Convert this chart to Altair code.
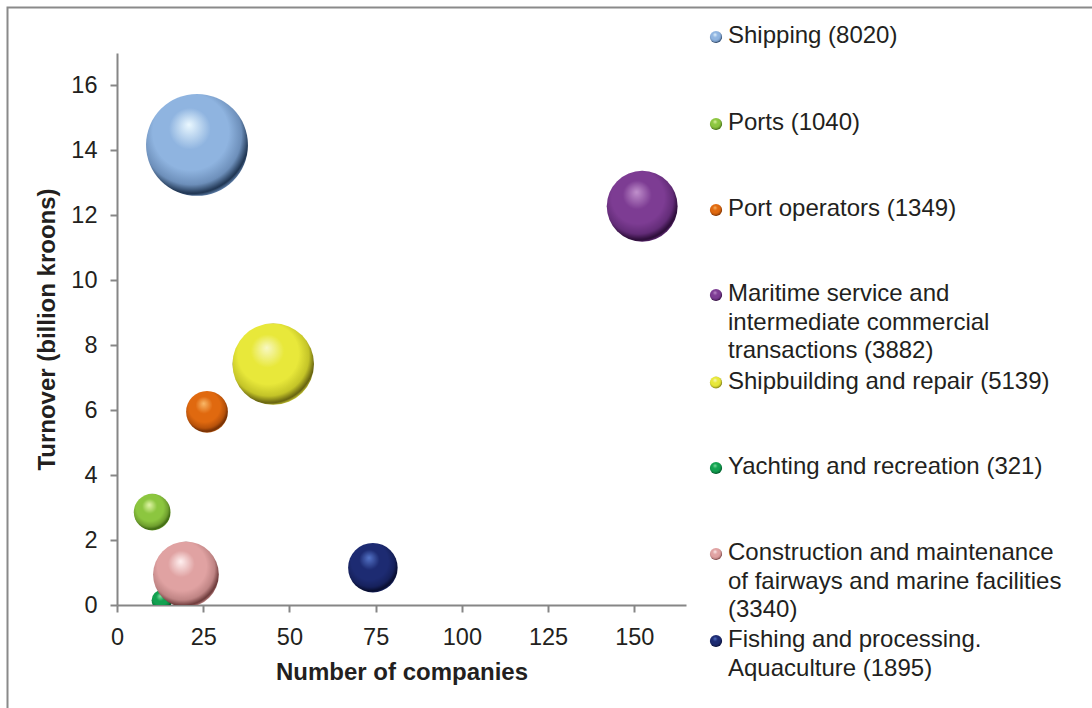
import altair as alt
import pandas as pd

# ---- data ----
categories = [
    "Shipping",
    "Ports",
    "Port operators",
    "Maritime service and intermediate commercial transactions",
    "Shipbuilding and repair",
    "Yachting and recreation",
    "Construction and maintenance of fairways and marine facilities",
    "Fishing and processing. Aquaculture",
]
companies = [23.2, 10.2, 26.1, 152.3, 45.3, 13.0, 20.0, 74.2]
turnover = [14.17, 2.86, 5.95, 12.28, 7.42, 0.15, 0.94, 1.15]
employees = [8020, 1040, 1349, 3882, 5139, 321, 3340, 1895]

legend_lines = [
    ["Shipping (8020)"],
    ["Ports (1040)"],
    ["Port operators (1349)"],
    ["Maritime service and", "intermediate commercial", "transactions (3882)"],
    ["Shipbuilding and repair (5139)"],
    ["Yachting and recreation (321)"],
    ["Construction and maintenance", "of fairways and marine facilities", "(3340)"],
    ["Fishing and processing.", "Aquaculture (1895)"],
]

x_ticks = [0, 25, 50, 75, 100, 125, 150]
y_ticks = [0, 2, 4, 6, 8, 10, 12, 14, 16]

# (light, base, shade, dark, rim) per series
palette = [
    ("#eaf8ff", "#8fb4e0", "#6d8fba", "#1f3552", "#6a8cb8"),
    ("#e2f5a8", "#8cc63f", "#6f9f2e", "#3a6410", "#7aae36"),
    ("#f9b868", "#e0690f", "#b8520a", "#6e2c04", "#d06a18"),
    ("#c090cc", "#7d3c93", "#632c78", "#2a0c36", "#6e3484"),
    ("#f8f8c4", "#e8e83a", "#c4c428", "#666210", "#d4d438"),
    ("#84e2a4", "#12a150", "#0c8240", "#034a26", "#10904a"),
    ("#fff0f0", "#e0a2a2", "#bf8484", "#6a3838", "#c89090"),
    ("#5474c8", "#1d2b72", "#16215c", "#070c2c", "#1c2a70"),
]

df = pd.DataFrame({
    "category": categories,
    "companies": companies,
    "turnover": turnover,
    "employees": employees,
})

# ---- layout (pixels) ----
PLOT_L, PLOT_T, PLOT_R, PLOT_B = 117, 53, 686, 605
W, H = PLOT_R - PLOT_L, PLOT_B - PLOT_T
legend_first_y = [36, 123, 209, 294, 381.5, 467, 553, 640]
LINE_H = 28.5
LEG_MARK_X = 716
LEG_TEXT_X = 728
FONT = "Liberation Sans"
TEXT_COLOR = "#231f20"
AXIS_COLOR = "#868686"


def sphere(light, base, shade, dark, rim):
    return alt.Gradient(
        gradient="radial",
        x1=0.42, y1=0.3, r1=0.0,
        x2=0.45, y2=0.42, r2=0.6,
        stops=[
            alt.GradientStop(color=light, offset=0.0),
            alt.GradientStop(color=base, offset=0.34),
            alt.GradientStop(color=base, offset=0.62),
            alt.GradientStop(color=shade, offset=0.82),
            alt.GradientStop(color=dark, offset=0.94),
            alt.GradientStop(color=rim, offset=1.0),
        ],
    )


x_enc = alt.X(
    "companies:Q",
    scale=alt.Scale(domain=[0, 165], nice=False, zero=True),
    axis=alt.Axis(
        values=x_ticks,
        title="Number of companies",
        titleX=W / 2,
        titleY=67,
        titleBaseline="middle",
        titleAlign="center",
    ),
)
y_enc = alt.Y(
    "turnover:Q",
    scale=alt.Scale(domain=[0, 17], nice=False, zero=True),
    axis=alt.Axis(
        values=y_ticks,
        title="Turnover (billion kroons)",
        titleX=47 - PLOT_L,
        titleY=H / 2,
        titleAngle=270,
        titleBaseline="middle",
        titleAlign="center",
    ),
)
# Vega circle symbols: radius = sqrt(size) / 2; bubble area proportional to value
size_enc = alt.Size(
    "employees:Q",
    scale=alt.Scale(domain=[0, 8020], range=[0, 10385], zero=True),
    legend=None,
)

layers = []

# bubbles
for i, cat in enumerate(categories):
    layer = (
        alt.Chart(df)
        .transform_filter(alt.datum.category == cat)
        .mark_circle(fill=sphere(*palette[i]), opacity=1, strokeWidth=0, clip=True)
        .encode(x=x_enc, y=y_enc, size=size_enc)
    )
    layers.append(layer)

# frame around the whole figure
frame = alt.Chart(pd.DataFrame({"f": [0]})).mark_rect(
    fillOpacity=0, stroke="#8a8a8a", strokeWidth=2
).encode(
    x=alt.value(7.5 - PLOT_L),
    y=alt.value(7.5 - PLOT_T),
    x2=alt.value(1110 - PLOT_L),
    y2=alt.value(725 - PLOT_T),
)
layers.append(frame)

# legend: marker spheres and text
for i, lines in enumerate(legend_lines):
    y0 = legend_first_y[i]
    marker = alt.Chart(pd.DataFrame({"k": [categories[i]]})).mark_circle(
        fill=sphere(*palette[i]), opacity=1, strokeWidth=0, size=150
    ).encode(
        x=alt.value(LEG_MARK_X - PLOT_L),
        y=alt.value(y0 + 1 - PLOT_T),
    )
    layers.append(marker)
    for j, line in enumerate(lines):
        txt = alt.Chart(pd.DataFrame({"t": [line]})).mark_text(
            align="left", baseline="middle", font=FONT, fontSize=24, color=TEXT_COLOR
        ).encode(
            text="t:N",
            x=alt.value(LEG_TEXT_X - PLOT_L),
            y=alt.value(y0 + j * LINE_H - PLOT_T),
        )
        layers.append(txt)

chart = (
    alt.layer(*layers)
    .properties(
        width=W,
        height=H,
        autosize=alt.AutoSizeParams(type="none"),
        padding={"left": PLOT_L, "top": PLOT_T, "right": 1092 - PLOT_R, "bottom": 708 - PLOT_B},
        background="white",
    )
    .configure_view(stroke=None)
    .configure_axis(
        domainColor=AXIS_COLOR,
        domainWidth=2,
        tickColor=AXIS_COLOR,
        tickWidth=2,
        tickSize=7,
        grid=False,
        labelFont=FONT,
        labelFontSize=23.5,
        labelColor=TEXT_COLOR,
        labelPadding=13,
        titleFont=FONT,
        titleFontSize=24,
        titleFontWeight="bold",
        titleColor=TEXT_COLOR,
        labelFlush=False,
        labelOverlap=False,
    )
)

chart.save("out.html", embed_options={"renderer": "svg", "actions": False})
